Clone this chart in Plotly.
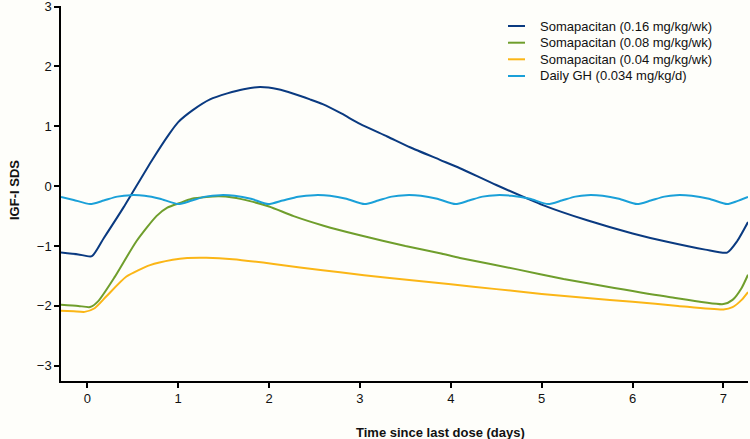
import plotly.graph_objects as go

# ---- data ----
t_hi = [-0.29, -0.1, 0.05, 0.18, 0.4, 0.71, 0.9, 1.0, 1.16, 1.35, 1.54, 1.72, 1.9, 2.1, 2.27,
        2.45, 2.59, 2.8, 3.0, 3.3, 3.55, 3.88, 4.1, 4.5, 5.02, 5.5, 6.0, 6.38, 6.8, 7.04, 7.15, 7.27]
v_hi = [-1.11, -1.14, -1.17, -0.87, -0.35, 0.43, 0.87, 1.07, 1.27, 1.45, 1.55, 1.62, 1.655, 1.62, 1.545,
        1.45, 1.37, 1.21, 1.04, 0.83, 0.65, 0.44, 0.3, 0.02, -0.32, -0.57, -0.79, -0.93, -1.06, -1.11, -0.92, -0.6]

t_mid = [-0.29, -0.1, 0.03, 0.12, 0.3, 0.54, 0.76, 0.88, 1.02, 1.15, 1.31, 1.45, 1.6, 1.79, 2.0,
         2.27, 2.6, 3.0, 3.5, 3.88, 4.1, 4.73, 5.24, 5.8, 6.4, 7.0, 7.1, 7.2, 7.27]
v_mid = [-1.98, -2.0, -2.02, -1.92, -1.52, -0.92, -0.5, -0.36, -0.28, -0.21, -0.18, -0.17, -0.19, -0.25, -0.34,
         -0.5, -0.66, -0.82, -1.0, -1.12, -1.2, -1.39, -1.55, -1.7, -1.85, -1.97, -1.9, -1.7, -1.48]

t_lo = [-0.29, -0.15, -0.03, 0.08, 0.21, 0.43, 0.69, 0.94, 1.1, 1.31, 1.6, 2.05, 2.34, 2.78, 3.3,
        4.0, 4.5, 5.0, 5.5, 6.0, 6.5, 7.0, 7.1, 7.2, 7.27]
v_lo = [-2.08, -2.09, -2.1, -2.04, -1.84, -1.51, -1.32, -1.23, -1.2, -1.195, -1.22, -1.3, -1.36, -1.44, -1.53,
        -1.64, -1.72, -1.8, -1.87, -1.93, -2.0, -2.06, -2.02, -1.9, -1.77]

t_daily = [-0.29, -0.15, 0.03, 0.18, 0.33, 0.48, 0.63, 0.8, 1.0, 1.15, 1.3, 1.46, 1.62, 1.8, 1.99,
           2.15, 2.32, 2.5, 2.67, 2.85, 3.05, 3.2, 3.35, 3.5, 3.67, 3.85, 4.05, 4.2, 4.35, 4.5,
           4.67, 4.87, 5.07, 5.22, 5.37, 5.5, 5.67, 5.85, 6.05, 6.2, 6.35, 6.48, 6.65, 6.84, 7.04,
           7.15, 7.27]
v_daily = [-0.18, -0.23, -0.30, -0.24, -0.175, -0.15, -0.16, -0.21, -0.30, -0.24, -0.175, -0.15, -0.16, -0.21, -0.30,
           -0.24, -0.175, -0.15, -0.16, -0.21, -0.30, -0.24, -0.175, -0.15, -0.16, -0.21, -0.30, -0.24, -0.175, -0.15,
           -0.16, -0.21, -0.30, -0.24, -0.175, -0.15, -0.16, -0.21, -0.30, -0.24, -0.175, -0.15, -0.16, -0.21, -0.30,
           -0.25, -0.18]

names = ["Somapacitan (0.16 mg/kg/wk)", "Somapacitan (0.08 mg/kg/wk)",
         "Somapacitan (0.04 mg/kg/wk)", "Daily GH (0.034 mg/kg/d)"]
colors = ["#0a3a80", "#6f9e2c", "#fbb616", "#1aa0d8"]

x_ticks = [0, 1, 2, 3, 4, 5, 6, 7]
y_ticks = [-3, -2, -1, 0, 1, 2, 3]

FONT = "Liberation Sans, Arial, Helvetica, sans-serif"
W, H = 750, 439
ML, MR, MT, MB = 61, 2, 6, 58
PW, PH = W - ML - MR, H - MT - MB


def px_x(p):
    return (p - ML) / PW


def px_y(p):
    return (H - MB - p) / PH


fig = go.Figure()
for tx, vy, nm, c in zip([t_hi, t_mid, t_lo, t_daily], [v_hi, v_mid, v_lo, v_daily], names, colors):
    fig.add_trace(go.Scatter(x=tx, y=vy, mode="lines", name=nm, showlegend=False,
                             line=dict(color=c, width=2, shape="spline", smoothing=0.6)))

fig.update_layout(
    width=W, height=H,
    margin=dict(l=ML, r=MR, t=MT, b=MB),
    paper_bgcolor="#fefefa", plot_bgcolor="#fefefa",
    font=dict(family=FONT, size=13, color="#111111"),
    xaxis=dict(range=[-0.29, 7.27], tickvals=x_ticks, ticktext=[str(v) for v in x_ticks],
               showgrid=False, zeroline=False, showline=True, linecolor="black", linewidth=1.5,
               ticks="outside", ticklen=5, tickwidth=1.5, tickcolor="black",
               tickfont=dict(size=13), automargin=False, ticklabeloverflow="allow"),
    yaxis=dict(range=[-3.255, 3.01], tickvals=y_ticks,
               showgrid=False, zeroline=False, showline=True, linecolor="black", linewidth=1.5,
               ticks="outside", ticklen=5, tickwidth=1.5, tickcolor="black",
               tickfont=dict(size=13), automargin=False, ticklabeloverflow="allow"),
)

# axis titles
fig.add_annotation(text="<b>Time since last dose (days)</b>", xref="paper", yref="paper",
                   x=px_x(440), y=px_y(432), xanchor="center", yanchor="middle",
                   showarrow=False, font=dict(size=13))
fig.add_annotation(text="<b>IGF-I SDS</b>", xref="paper", yref="paper", textangle=-90,
                   x=px_x(14), y=px_y(190), xanchor="center", yanchor="middle",
                   showarrow=False, font=dict(size=13))

# legend (swatch + label)
leg_rows = [26, 42.7, 59.3, 76]
for nm, c, ry in zip(names, colors, leg_rows):
    fig.add_shape(type="line", xref="paper", yref="paper",
                  x0=px_x(508), x1=px_x(525), y0=px_y(ry), y1=px_y(ry),
                  line=dict(color=c, width=2))
    fig.add_annotation(text=nm, xref="paper", yref="paper",
                       x=px_x(538), y=px_y(ry), xanchor="left", yanchor="middle",
                       showarrow=False, font=dict(size=13, color="#111111"))

fig.write_html("out.html", config={"displayModeBar": False},
               post_script="document.body.style.margin='0';document.body.style.padding='0';"
                           "document.body.style.overflow='hidden';")
